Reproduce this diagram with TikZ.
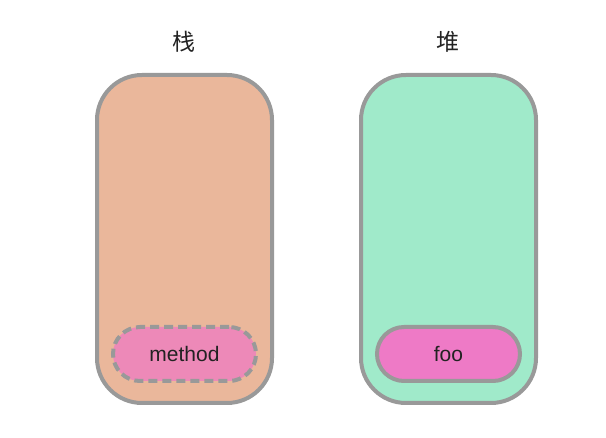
\documentclass[tikz,border=0pt]{standalone}
\usepackage{fontspec}
\setmainfont{Liberation Sans}
\newfontfamily\cjk{Noto Sans CJK SC}
\definecolor{edgegray}{HTML}{999999}
\definecolor{stackfill}{HTML}{EAB79B}
\definecolor{heapfill}{HTML}{A0EACA}
\definecolor{methodfill}{HTML}{ED89B8}
\definecolor{foofill}{HTML}{EE7AC6}
\definecolor{textcol}{HTML}{222222}
\begin{document}
\begin{tikzpicture}[x=1pt,y=-1pt,
  area/.style={draw=edgegray, line width=4pt, rounded corners=45pt, minimum width=175pt, minimum height=328pt, inner sep=0pt},
  pill/.style={draw=edgegray, line width=4pt, rounded corners=27pt, minimum width=143pt, minimum height=54pt, inner sep=0pt, font=\fontsize{21pt}{23pt}\selectfont, text=textcol},
  title/.style={font=\cjk\fontsize{23pt}{25pt}\selectfont, text=textcol}]
\useasboundingbox (0,0) rectangle (606,438);
\node[area, fill=stackfill] (stack) at (184.5,239) {};
\node[area, fill=heapfill] (heap) at (448.5,239) {};
\node[title] (stacktitle) at (184,42) {栈};
\node[title] (heaptitle) at (448,42) {堆};
\node[pill, fill=methodfill, dash pattern=on 9pt off 5pt] (method) at (184.5,354) {method};
\node[pill, fill=foofill] (foo) at (448.5,354) {foo};
\end{tikzpicture}
\end{document}
